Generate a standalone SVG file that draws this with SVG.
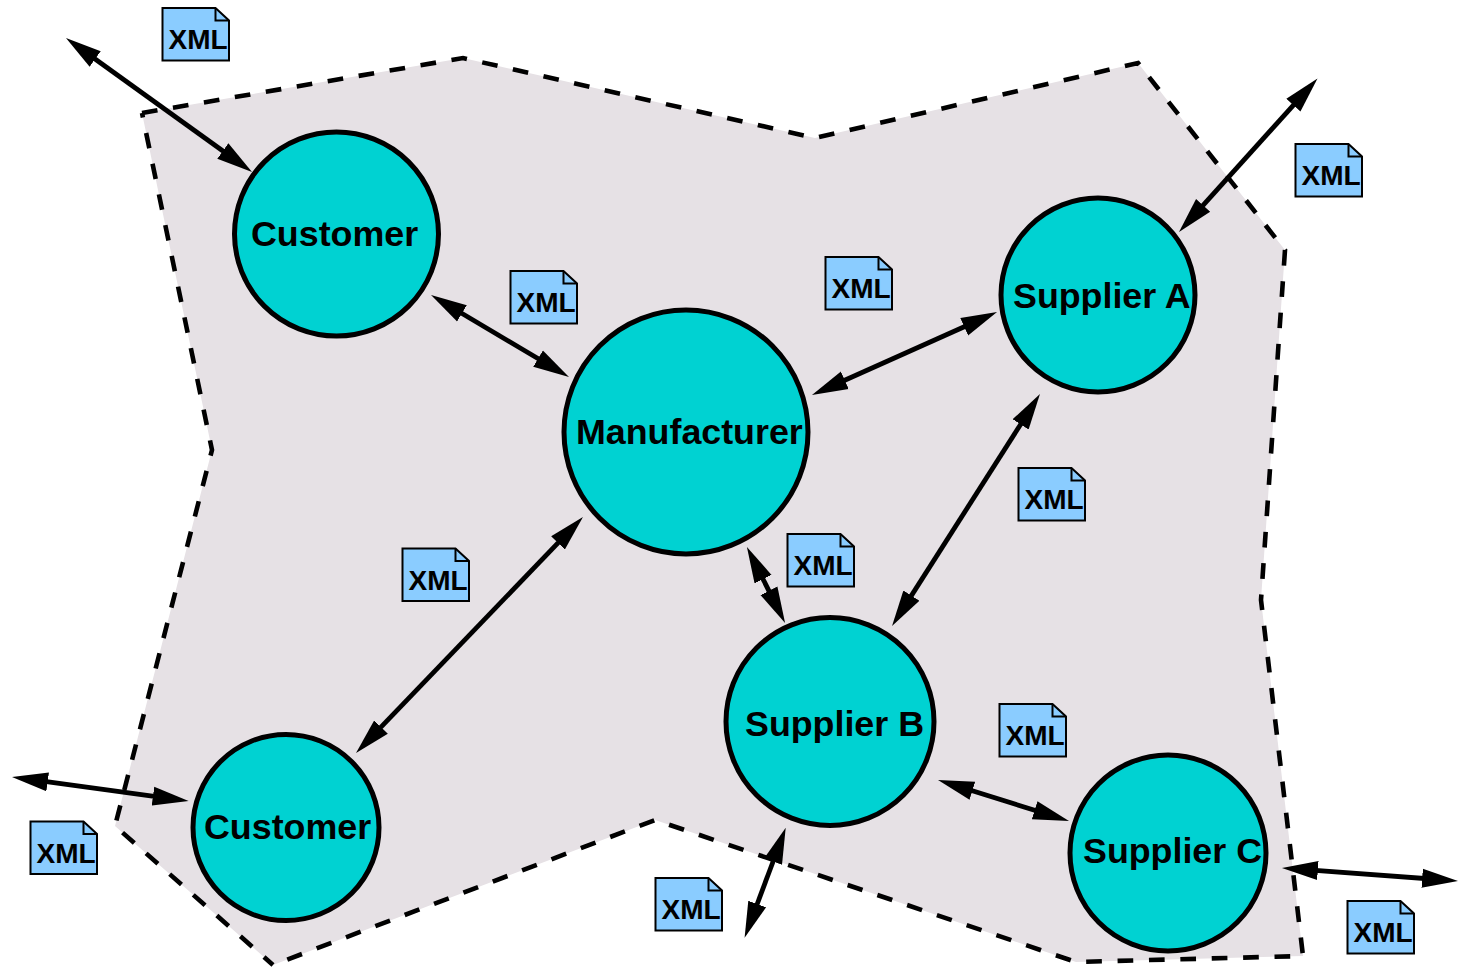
<svg xmlns="http://www.w3.org/2000/svg" width="1458" height="967" viewBox="0 0 1458 967">
<style>
.regionfill{fill:#e6e1e5;stroke:none}
.edge{fill:none;stroke:#000;stroke-width:4.600;stroke-dasharray:15.700 15.700}
.node{fill:#00d2d2;stroke:#000;stroke-width:5}
.lbl{font-family:"Liberation Sans",Arial,sans-serif;font-weight:bold;font-size:35.800px;fill:#000}
.xml{font-family:"Liberation Sans",Arial,sans-serif;font-weight:bold;font-size:28px;fill:#000}
.doc{fill:#8accff;stroke:#000;stroke-width:2}
.fold{fill:none;stroke:#000;stroke-width:2}
.conn{fill:none;stroke:#000;stroke-width:4.800;marker-start:url(#ah);marker-end:url(#ah)}
</style>
<defs>
<marker id="ah" markerUnits="userSpaceOnUse" viewBox="0 0 36 22" markerWidth="36" markerHeight="22" refX="16" refY="11" orient="auto-start-reverse"><path d="M0,1.500 L36,11 L0,20.500 Z" fill="#000"/></marker>
<g id="docshape"><path class="doc" d="M0,0 H53 L66.500,12.500 V52.500 H0 Z"/><path class="fold" d="M53,0 V12.500 H66.500"/></g>
</defs>
<g id="region">
<polygon class="regionfill" points="142,113 463,58 815,138 1138,63 1285,250 1261,600 1303,956 1076,962 655,820 273,965 115,826 212,450"/>
<path class="edge" d="M142,113 L463,58 L815,138 L1138,63 L1285,250 L1261,600 L1303,956 L1076,962 L655,820 L273,965"/>
<path class="edge" stroke-dashoffset="3.700" d="M273,965 L115,826 L212,450 L142,113"/>
</g>
<g id="connectors">
<line class="conn" x1="82.200" y1="49.700" x2="235.800" y2="160.300"/>
<line class="conn" x1="448.200" y1="305.200" x2="551.800" y2="366.800"/>
<line class="conn" x1="830.200" y1="386.800" x2="978.800" y2="320.200"/>
<line class="conn" x1="1029.200" y1="410.900" x2="902.800" y2="609.100"/>
<line class="conn" x1="755.900" y1="564.900" x2="776.100" y2="605.100"/>
<line class="conn" x1="569.100" y1="531.400" x2="369.900" y2="738.600"/>
<line class="conn" x1="31.800" y1="779.700" x2="168.800" y2="798.400"/>
<line class="conn" x1="1304.100" y1="93.300" x2="1192.400" y2="217.200"/>
<line class="conn" x1="957.100" y1="786" x2="1049.900" y2="815"/>
<line class="conn" x1="778.700" y1="846.500" x2="751.600" y2="919"/>
<line class="conn" x1="1301.900" y1="869.400" x2="1438.100" y2="879.500"/>
</g>
<g id="customer1"><circle class="node" cx="336.500" cy="234" r="102"/><text class="lbl" x="251" y="246">Customer</text></g>
<g id="manufacturer"><circle class="node" cx="686" cy="432" r="122"/><text class="lbl" x="576" y="444">Manufacturer</text></g>
<g id="supplierA"><circle class="node" cx="1098" cy="295" r="97"/><text class="lbl" x="1013" y="308">Supplier A</text></g>
<g id="supplierB"><circle class="node" cx="830" cy="721.500" r="104"/><text class="lbl" x="745" y="736">Supplier B</text></g>
<g id="customer2"><circle class="node" cx="286" cy="827.500" r="93"/><text class="lbl" x="204" y="839">Customer</text></g>
<g id="supplierC"><circle class="node" cx="1168" cy="853" r="98"/><text class="lbl" x="1083" y="863">Supplier C</text></g>
<g id="doc1" transform="translate(162.500,8)"><use href="#docshape"/><text class="xml" x="6" y="41">XML</text></g>
<g id="doc2" transform="translate(510.500,271)"><use href="#docshape"/><text class="xml" x="6" y="41">XML</text></g>
<g id="doc3" transform="translate(825.500,257)"><use href="#docshape"/><text class="xml" x="6" y="41">XML</text></g>
<g id="doc4" transform="translate(1295.500,144)"><use href="#docshape"/><text class="xml" x="6" y="41">XML</text></g>
<g id="doc5" transform="translate(1018.500,468)"><use href="#docshape"/><text class="xml" x="6" y="41">XML</text></g>
<g id="doc6" transform="translate(787.500,534)"><use href="#docshape"/><text class="xml" x="6" y="41">XML</text></g>
<g id="doc7" transform="translate(402.500,548.500)"><use href="#docshape"/><text class="xml" x="6" y="41">XML</text></g>
<g id="doc8" transform="translate(999.500,704)"><use href="#docshape"/><text class="xml" x="6" y="41">XML</text></g>
<g id="doc9" transform="translate(30.500,821.500)"><use href="#docshape"/><text class="xml" x="6" y="41">XML</text></g>
<g id="doc10" transform="translate(655.500,878)"><use href="#docshape"/><text class="xml" x="6" y="41">XML</text></g>
<g id="doc11" transform="translate(1347.500,901)"><use href="#docshape"/><text class="xml" x="6" y="41">XML</text></g>
</svg>
